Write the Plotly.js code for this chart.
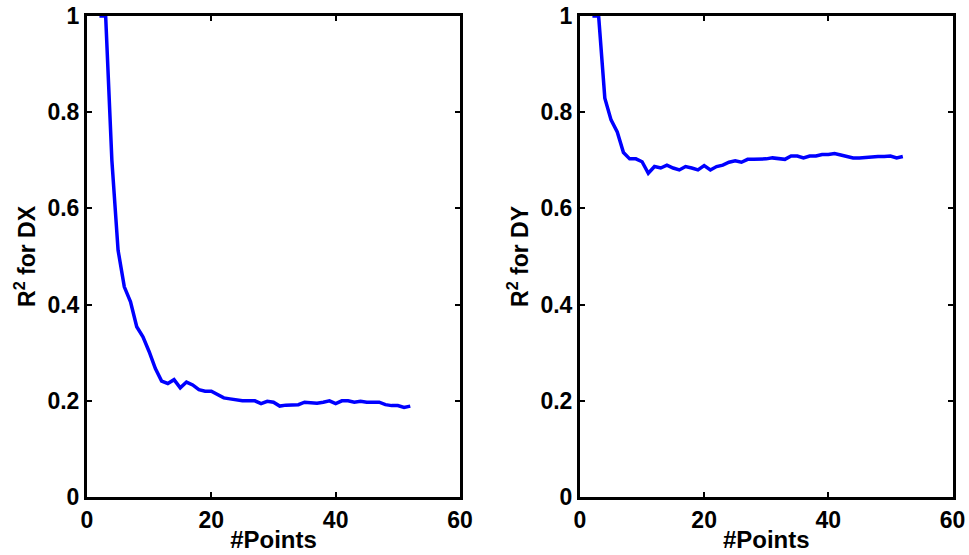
<!DOCTYPE html>
<html>
<head>
<meta charset="utf-8">
<script src="https://cdn.plot.ly/plotly-3.0.1.min.js"></script>
<style>html,body{margin:0;padding:0;background:#fff;}#chart{width:969px;height:555px;}</style>
</head>
<body>
<div id="chart"></div>
<script>
// Number of points (x) shared by both panels
const points = [2,3,4,5,6,7,8,9,10,11,12,13,14,15,16,17,18,19,20,21,22,23,24,25,26,27,28,29,30,31,32,33,34,35,36,37,38,39,40,41,42,43,44,45,46,47,48,49,50,51,52];

// R^2 for DX (left panel)
const r2DX = [1.0,1.0,0.70,0.513,0.437,0.406,0.354,0.333,0.302,0.267,0.241,0.236,0.244,0.227,0.239,0.233,0.223,0.220,0.220,0.212,0.206,0.204,0.202,0.200,0.200,0.200,0.194,0.199,0.197,0.189,0.191,0.191,0.192,0.197,0.196,0.195,0.197,0.200,0.194,0.200,0.200,0.197,0.199,0.197,0.197,0.197,0.192,0.190,0.190,0.186,0.189];

// R^2 for DY (right panel)
const r2DY = [1.0,1.0,0.829,0.784,0.759,0.716,0.703,0.703,0.697,0.673,0.687,0.684,0.690,0.684,0.680,0.687,0.684,0.680,0.689,0.680,0.687,0.690,0.696,0.699,0.696,0.702,0.702,0.702,0.703,0.705,0.704,0.702,0.709,0.709,0.705,0.709,0.709,0.712,0.712,0.714,0.711,0.708,0.705,0.705,0.706,0.708,0.708,0.708,0.709,0.705,0.708];

const xTicks = [0,20,40,60];
const xTickText = ['0','20','40','60'];
const yTicks = [0,0.2,0.4,0.6,0.8,1];
const yTickText = ['0','0.2','0.4','0.6','0.8','1'];

const FONT = 'Liberation Sans, Arial, Helvetica, sans-serif';
const tickFont = {family: FONT, size: 23, color: '#000'};
const titleFont = {family: FONT, size: 24, color: '#000'};
const b = s => '<b>' + s + '</b>';

function xAxis(domain, anchor) {
  return {
    domain: domain, anchor: anchor, range: [0, 60],
    tickvals: xTicks, ticktext: xTickText.map(b),
    ticks: 'inside', ticklen: 5, tickwidth: 2, tickcolor: '#000',
    showline: true, linewidth: 3, linecolor: '#000', mirror: 'allticks',
    showgrid: false, zeroline: false,
    tickfont: tickFont,
    title: {text: b('#Points'), font: titleFont, standoff: 0}
  };
}
function yAxis(domain, anchor, label) {
  return {
    domain: domain, anchor: anchor, range: [0, 1],
    tickvals: yTicks, ticktext: yTickText.map(b),
    ticks: 'inside', ticklen: 5, tickwidth: 2, tickcolor: '#000',
    showline: true, linewidth: 3, linecolor: '#000', mirror: 'allticks',
    showgrid: false, zeroline: false,
    tickfont: tickFont,
    title: {text: b(label), font: {family: FONT, size: 23, color: '#000'}, standoff: 6}
  };
}

const data = [
  {x: points, y: r2DX, xaxis: 'x', yaxis: 'y', type: 'scatter', mode: 'lines',
   line: {color: '#0000ff', width: 3.5}, showlegend: false},
  {x: points, y: r2DY, xaxis: 'x2', yaxis: 'y2', type: 'scatter', mode: 'lines',
   line: {color: '#0000ff', width: 3.5}, showlegend: false}
];

const yDom = [1 - 497/555, 1 - 16/555];
const layout = {
  width: 969, height: 555,
  margin: {l: 0, r: 0, t: 0, b: 0},
  paper_bgcolor: '#fff', plot_bgcolor: '#fff',
  xaxis: xAxis([87/969, 460/969], 'y'),
  yaxis: yAxis(yDom, 'x', 'R<sup>2</sup> for DX'),
  xaxis2: xAxis([580/969, 952.5/969], 'y2'),
  yaxis2: yAxis(yDom, 'x2', 'R<sup>2</sup> for DY')
};

Plotly.newPlot('chart', data, layout, {displayModeBar: false, staticPlot: true});
</script>
</body>
</html>
